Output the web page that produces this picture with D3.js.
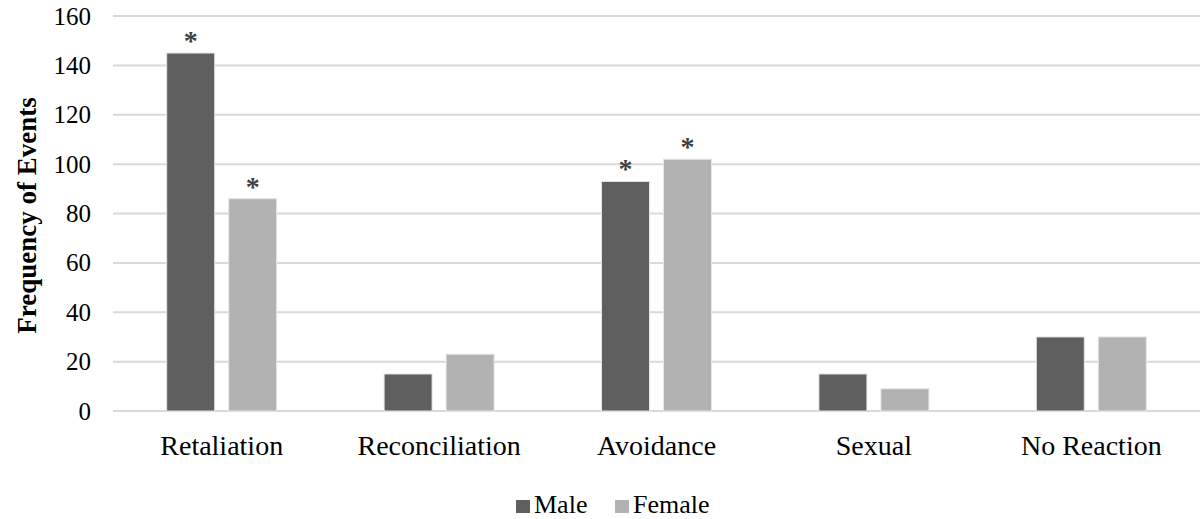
<!DOCTYPE html>
<html><head><meta charset="utf-8">
<script src="https://cdn.jsdelivr.net/npm/d3@7"></script>
<style>body{margin:0;background:#fff;} svg{display:block;font-family:"Liberation Serif","Times New Roman",serif;}</style>
</head><body>
<svg id="c" width="1203" height="519"></svg>
<script>
const categories = ["Retaliation","Reconciliation","Avoidance","Sexual","No Reaction"];
const series = ["Male","Female"];
const maleValues = [145,15,93,15,30];
const femaleValues = [86,23,102,9,30];
const maleSig = [true,false,true,false,false];
const femaleSig = [true,false,true,false,false];
const yTicks = [0,20,40,60,80,100,120,140,160];
const colors = {Male:"#5f5f5f", Female:"#b2b2b2"};

const svg = d3.select("#c");
const pLeft = 113, pRight = 1200, pTop = 16, pBottom = 411;
const y = d3.scaleLinear().domain([0,160]).range([pBottom, pTop]);
const x0 = d3.scaleBand().domain(categories).range([pLeft, pRight]).paddingInner(0.494).paddingOuter(0.247);
const x1 = d3.scaleBand().domain(series).range([0, x0.bandwidth()]).paddingInner(0.2258);

// gridlines
svg.append("g").selectAll("line").data(yTicks).join("line")
  .attr("x1", pLeft).attr("x2", pRight)
  .attr("y1", d => y(d)).attr("y2", d => y(d))
  .attr("stroke", "#d9d9d9").attr("stroke-width", 2);

// y tick labels via axis
const yAxis = svg.append("g").attr("transform", `translate(${pLeft},0)`)
  .call(d3.axisLeft(y).tickValues(yTicks).tickSize(0).tickPadding(22));
yAxis.select(".domain").remove();
yAxis.selectAll("text").attr("font-size", 25).attr("fill", "#000")
  .attr("font-family", '"Liberation Serif","Times New Roman",serif');

const rows = categories.map((c,i) => ({cat:c, vals:[
  {s:"Male", v:maleValues[i], sig:maleSig[i]},
  {s:"Female", v:femaleValues[i], sig:femaleSig[i]}]}));

const g = svg.append("g").selectAll("g").data(rows).join("g")
  .attr("transform", d => `translate(${x0(d.cat)},0)`);
g.selectAll("rect").data(d => d.vals).join("rect")
  .attr("x", d => x1(d.s)).attr("width", x1.bandwidth())
  .attr("y", d => y(d.v)).attr("height", d => y(0) - y(d.v))
  .attr("fill", d => colors[d.s]).attr("stroke", "#e6e6e6").attr("stroke-width", 1);
g.selectAll("text.sig").data(d => d.vals.filter(v => v.sig)).join("text")
  .attr("class","sig")
  .attr("x", d => x1(d.s) + x1.bandwidth()/2).attr("y", d => y(d.v) - 3)
  .attr("text-anchor","middle").attr("font-size", 28).attr("font-weight","bold")
  .attr("fill","#404040").text("*");

// x axis labels
const xAxis = svg.append("g").attr("transform", `translate(0,${pBottom})`)
  .call(d3.axisBottom(x0).tickSize(0).tickPadding(0));
xAxis.select(".domain").remove();
xAxis.selectAll("text").attr("font-size", 28).attr("fill","#000").attr("dy", null).attr("y", 44)
  .attr("font-family", '"Liberation Serif","Times New Roman",serif');

// y title
svg.append("text").attr("transform", `translate(36,${(pTop+pBottom)/2 + 2}) rotate(-90)`)
  .attr("text-anchor","middle").attr("font-size", 27).attr("font-weight","bold").attr("fill","#000")
  .text("Frequency of Events");

// legend
const legend = [{s:"Male", x:516}, {s:"Female", x:615}];
const lg = svg.append("g").selectAll("g").data(legend).join("g")
  .attr("transform", d => `translate(${d.x},0)`);
lg.append("rect").attr("x",0).attr("y",500).attr("width",14).attr("height",13).attr("fill", d => colors[d.s]);
lg.append("text").attr("x",18).attr("y",513).attr("font-size",26).attr("fill","#000").text(d => d.s);
</script>
</body></html>
